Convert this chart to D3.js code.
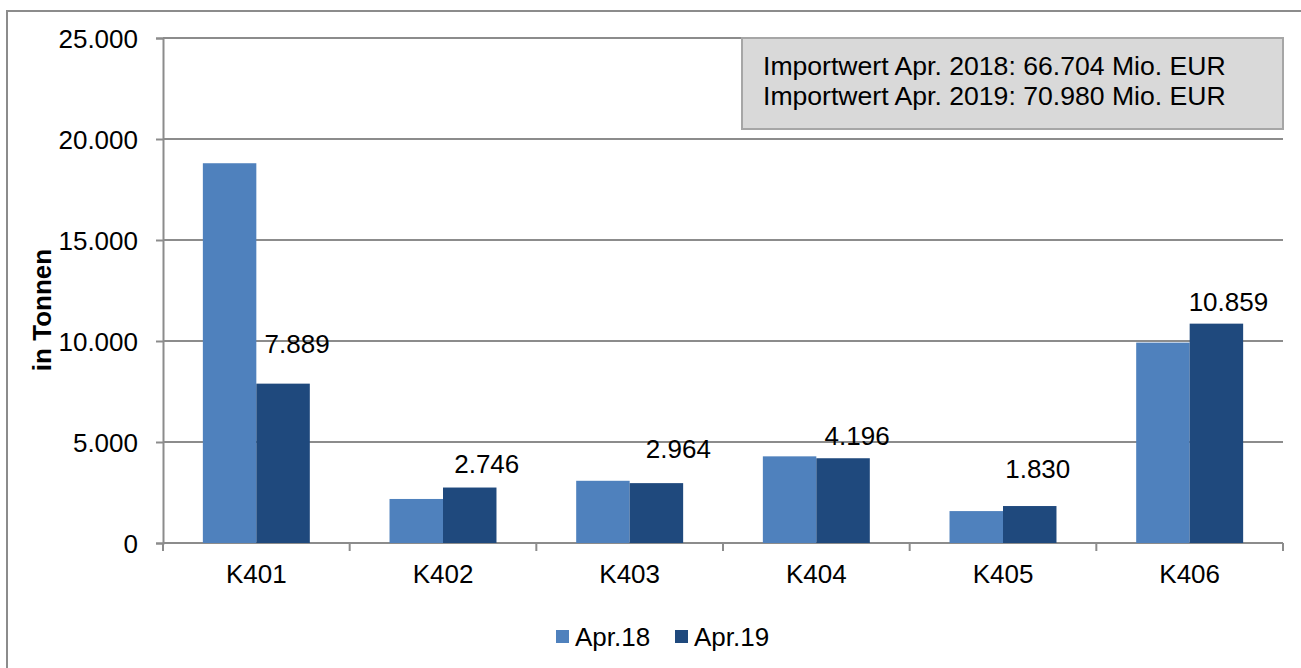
<!DOCTYPE html>
<meta charset="utf-8">
<html>
<head>
<!-- Load d3.js -->
<script type="text/javascript" src="https://d3js.org/d3.v7.js"></script>
<style>
  body { margin: 0; background: white; }
  text { font-family: "Liberation Sans", Arial, sans-serif; fill: black; }
</style>
</head>
<body>
<div id="plotArea"></div>
<script>

  // data
  const categories = ['K401', 'K402', 'K403', 'K404', 'K405', 'K406'];
  const seriesNames = ['Apr.18', 'Apr.19'];
  const apr18 = [18800, 2180, 3080, 4290, 1580, 9920];
  const apr19 = [7889, 2746, 2964, 4196, 1830, 10859];
  const yTicks = [0, 5000, 10000, 15000, 20000, 25000];
  const infoLines = ['Importwert Apr. 2018: 66.704 Mio. EUR', 'Importwert Apr. 2019: 70.980 Mio. EUR'];
  // the labels were nudged by hand in the original, so keep their offsets
  const labelDx = [14, 17, 22, 14, 8, 12];
  const labelDy = [-31, -15, -25, -13, -28, -13];

  const colors = ['#4f81bd', '#1f497d'];
  const gridColor = '#8c8c8c';

  // set the dimensions and margins of the graph
  const W = 1301, H = 668;
  const margin = {top: 38, right: 18, bottom: 125, left: 163},
        width = W - margin.left - margin.right,
        height = H - margin.top - margin.bottom;

  const root = d3.select("#plotArea")
                .append("svg")
                .attr("width", W)
                .attr("height", H);

  // outer frame of the chart object
  root.append('rect')
      .attr('x', 7).attr('y', 11)
      .attr('width', W).attr('height', H)
      .attr('fill', 'none')
      .attr('stroke', gridColor)
      .attr('stroke-width', 2);

  const svg = root.append("g")
                .attr("transform", `translate(${margin.left}, ${margin.top})`);

  const rows = categories.map(function(c, i) {
    return {cat: c, values: [apr18[i], apr19[i]], dx: labelDx[i], dy: labelDy[i]};
  });

  // scales
  const x0 = d3.scaleBand().domain(categories).range([0, width])
               .paddingInner(0.427).paddingOuter(0.2135);
  const x1 = d3.scaleBand().domain([0, 1]).range([0, x0.bandwidth()]);
  const y = d3.scaleLinear().domain([0, 25000]).range([height, 0]);

  // gridlines
  svg.append('g')
     .selectAll('line')
     .data(yTicks.slice(1))
     .enter()
     .append('line')
     .attr('x1', 0).attr('x2', width)
     .attr('y1', d => y(d)).attr('y2', d => y(d))
     .attr('stroke', gridColor)
     .attr('stroke-width', 2);

  // y axis
  const fmt = d3.formatLocale({decimal: ',', thousands: '.', grouping: [3], currency: ['', '']}).format(',d');
  const yAxis = svg.append('g')
     .call(d3.axisLeft(y).tickValues(yTicks).tickSize(7).tickPadding(18).tickFormat(fmt));
  yAxis.select('.domain').attr('stroke', gridColor).attr('stroke-width', 2);
  yAxis.selectAll('.tick line').attr('stroke', gridColor).attr('stroke-width', 2);
  yAxis.selectAll('.tick text').style('font-size', '26px').attr('dy', '0.36em');

  // x axis: ticks between the categories
  const bounds = d3.range(categories.length + 1).map(i => i * width / categories.length);
  svg.append('line')
     .attr('x1', 0).attr('x2', width)
     .attr('y1', height).attr('y2', height)
     .attr('stroke', gridColor).attr('stroke-width', 2);
  svg.append('g')
     .selectAll('line')
     .data(bounds)
     .enter()
     .append('line')
     .attr('x1', d => d).attr('x2', d => d)
     .attr('y1', height).attr('y2', height + 8)
     .attr('stroke', gridColor).attr('stroke-width', 2);
  svg.append('g')
     .selectAll('text')
     .data(categories)
     .enter()
     .append('text')
     .attr('x', d => x0(d) + x0.bandwidth() / 2)
     .attr('y', height + 40)
     .attr('text-anchor', 'middle')
     .style('font-size', '26px')
     .text(d => d);

  // bars
  const groups = svg.append('g')
     .selectAll('g')
     .data(rows)
     .enter()
     .append('g')
     .attr('transform', d => `translate(${x0(d.cat)},0)`);

  groups.selectAll('rect')
     .data(d => d.values)
     .enter()
     .append('rect')
     .attr('x', (d, i) => x1(i))
     .attr('y', d => y(d))
     .attr('width', x1.bandwidth())
     .attr('height', d => height - y(d))
     .attr('fill', (d, i) => colors[i]);

  // value labels on the Apr.19 bars
  groups.append('text')
     .attr('x', d => x1(1) + x1.bandwidth() / 2 + d.dx)
     .attr('y', d => y(d.values[1]) + d.dy)
     .attr('text-anchor', 'middle')
     .style('font-size', '26px')
     .text(d => fmt(d.values[1]));

  // y axis title
  root.append('text')
      .attr('transform', 'translate(51,310) rotate(-90)')
      .attr('text-anchor', 'middle')
      .style('font-size', '26px')
      .style('font-weight', 'bold')
      .text('in Tonnen');

  // info box
  root.append('rect')
      .attr('x', 742).attr('y', 38)
      .attr('width', 541).attr('height', 91)
      .attr('fill', '#d9d9d9')
      .attr('stroke', '#a6a6a6')
      .attr('stroke-width', 2);
  root.append('g')
      .selectAll('text')
      .data(infoLines)
      .enter()
      .append('text')
      .attr('x', 763)
      .attr('y', (d, i) => 75 + i * 30)
      .style('font-size', '26.6px')
      .text(d => d);

  // legend
  const legend = root.append('g')
      .selectAll('g')
      .data(seriesNames)
      .enter()
      .append('g')
      .attr('transform', (d, i) => `translate(${556 + i * 119},630)`);
  legend.append('rect')
      .attr('width', 13).attr('height', 13)
      .attr('fill', (d, i) => colors[i]);
  legend.append('text')
      .attr('x', 19).attr('y', 7)
      .attr('dy', '0.36em')
      .style('font-size', '26px')
      .text(d => d);

</script>
</body>
</html>
